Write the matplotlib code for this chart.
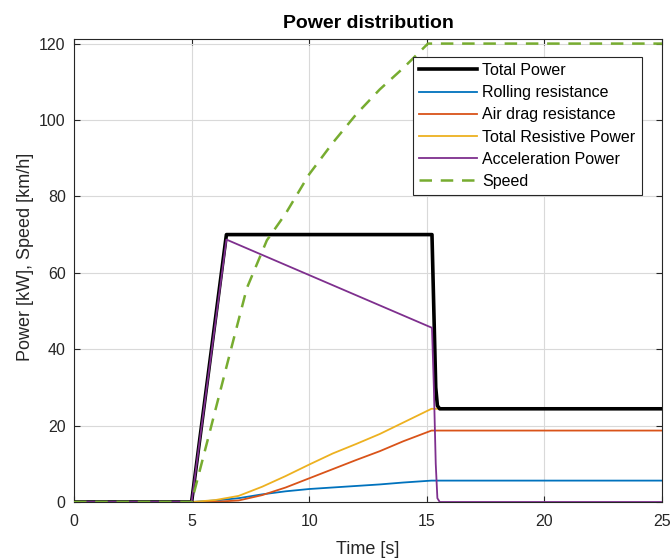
import numpy as np
from matplotlib import pyplot as plt

plt.rcParams["font.family"] = ["Liberation Sans", "DejaVu Sans"]

# time samples [s] and values
t_total = [0, 5, 6.48, 15.22, 15.3, 15.38, 15.45, 15.55, 25]
p_total = [0, 0, 70, 70, 50, 30, 25.2, 24.4, 24.4]

t_res = [0, 5, 6, 7, 8, 9, 10, 11, 12, 13, 14, 15.2, 25]
p_roll = [0, 0, 0.4, 1.0, 2.0, 2.8, 3.4, 3.8, 4.2, 4.6, 5.1, 5.6, 5.6]
p_air = [0, 0, 0.05, 0.4, 1.8, 3.8, 6.2, 8.6, 11.0, 13.3, 15.9, 18.7, 18.7]
p_resist = [0, 0, 0.5, 1.6, 4.0, 6.8, 9.8, 12.7, 15.2, 17.8, 20.8, 24.4, 24.4]

t_acc = [0, 5, 6.48, 15.22, 15.3, 15.38, 15.45, 15.55, 25]
p_acc = [0, 0, 68.7, 45.6, 30, 10, 1, 0, 0]

t_speed = [0, 5, 5.8, 6.55, 7.35, 8.2, 9.0, 10.0, 11.0, 12.0, 13.0, 14.0, 15.05, 25]
speed = [0, 0, 19, 37, 56, 68.5, 75.5, 85.8, 94, 101.5, 108, 113.6, 120, 120]

fig = plt.figure(figsize=(6.71, 5.59), dpi=100)
ax = fig.add_axes([74 / 671, 57 / 559, 588 / 671, 463 / 559])

ax.plot(t_total, p_total, color="black", lw=2.6, label="Total Power", zorder=3)
ax.plot(t_res, p_roll, color="#0072BD", lw=1.3, label="Rolling resistance")
ax.plot(t_res, p_air, color="#D95319", lw=1.3, label="Air drag resistance")
ax.plot(t_res, p_resist, color="#EDB120", lw=1.3, label="Total Resistive Power")
ax.plot(t_acc, p_acc, color="#7E2F8E", lw=1.3, label="Acceleration Power", zorder=4)
ax.plot(t_speed, speed, color="#77AC30", lw=1.8, ls=(0, (5, 3.5)), label="Speed", zorder=5)

ax.set_xlim(0, 25)
ax.set_ylim(0, 121.2)
ax.set_xticks(np.arange(0, 26, 5))
ax.set_yticks(np.arange(0, 121, 20))
ax.grid(True, color="#d9d9d9", lw=0.8)
ax.set_axisbelow(True)
ax.tick_params(direction="in", top=True, right=True, labelsize=11.5, colors="#262626", length=4)
ax.tick_params(axis="x", pad=9)
ax.tick_params(axis="y", pad=6)
for s in ax.spines.values():
    s.set_color("#262626")
    s.set_linewidth(0.8)

ax.set_xlabel("Time [s]", fontsize=13, color="#262626", labelpad=8)
ax.set_ylabel("Power [kW], Speed [km/h]", fontsize=13, color="#262626")
ax.yaxis.set_label_coords(-0.068, 0.53)
ax.set_title("Power distribution", fontsize=14, fontweight="bold", pad=8)

leg = ax.legend(loc="upper right", bbox_to_anchor=(0.9655, 0.962), fontsize=11.5,
                fancybox=False, framealpha=1, edgecolor="#262626", borderaxespad=0,
                handlelength=3.6, labelspacing=0.45, borderpad=0.4, handletextpad=0.35)
leg.get_frame().set_linewidth(0.8)

fig.savefig("out.png", dpi=100)
